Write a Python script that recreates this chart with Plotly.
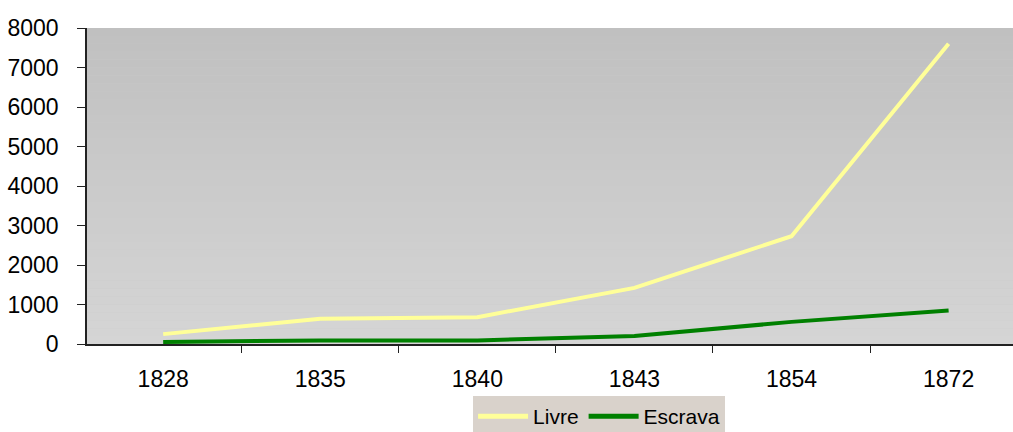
import plotly.graph_objects as go

years = ["1828", "1835", "1840", "1843", "1854", "1872"]
livre = [250, 640, 680, 1420, 2730, 7600]
escrava = [50, 90, 90, 200, 560, 850]

fig = go.Figure()
fig.add_trace(go.Scatter(x=years, y=livre, name="Livre", mode="lines",
                         line=dict(color="#ffff99", width=4)))
fig.add_trace(go.Scatter(x=years, y=escrava, name="Escrava", mode="lines",
                         line=dict(color="#008000", width=4)))

# vertical grey gradient behind the plot, done as thin bands
n = 40
top = (192, 192, 192)
bot = (213, 213, 213)
for i in range(n):
    t = i / (n - 1)
    c = tuple(round(bot[k] + (top[k] - bot[k]) * t) for k in range(3))
    fig.add_shape(type="rect", xref="x domain", yref="y domain",
                  x0=0, x1=1, y0=i / n, y1=(i + 1) / n,
                  fillcolor="rgb(%d,%d,%d)" % c, line_width=0, layer="below")

font = "Liberation Sans, Arial, sans-serif"
fig.update_layout(
    width=1013,
    height=432,
    margin=dict(l=87, r=0, t=28, b=88, autoexpand=False),
    paper_bgcolor="white",
    plot_bgcolor="#cacaca",
    font=dict(family=font, size=23, color="black"),
    showlegend=True,
    legend=dict(orientation="h", x=0.553, xanchor="center", y=-0.165, yanchor="top",
                bgcolor="#d9d2cb", font=dict(size=21), itemwidth=50,
                tracegroupgap=0, itemsizing="constant"),
)
fig.update_xaxes(type="category", range=[-0.485, 5.41], showgrid=False,
                 showline=True, linecolor="#222", linewidth=1.5,
                 ticks="outside", tickson="boundaries", ticklen=7, tickcolor="#222",
                 ticklabelstandoff=14, automargin=False)
fig.update_yaxes(range=[0, 8000], dtick=1000, showgrid=False, zeroline=False,
                 showline=True, linecolor="#222", linewidth=1.5,
                 ticks="outside", ticklen=8, tickcolor="#222",
                 ticklabelstandoff=14, automargin=False)

# drop the default body margin so the figure sits flush in the window
fig.write_html("out.html", config={"displayModeBar": False},
               post_script="document.body.style.margin='0';")
